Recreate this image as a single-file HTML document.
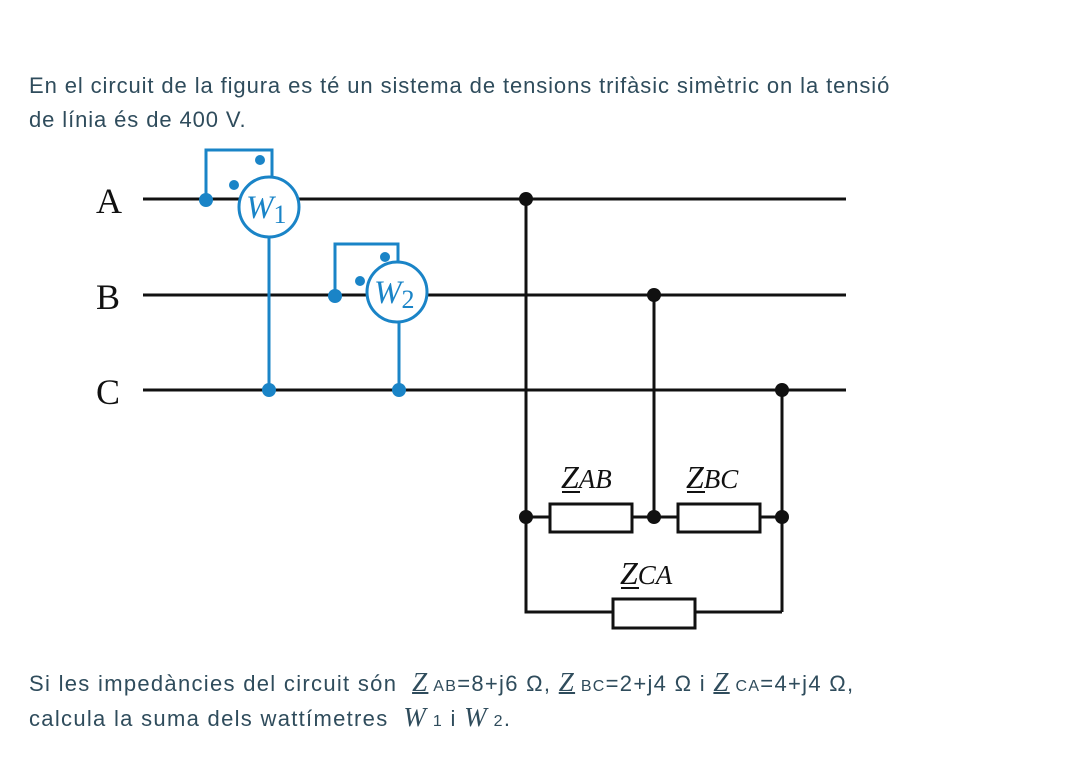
<!DOCTYPE html>
<html><head><meta charset="utf-8"><style>
body{margin:0;background:#fff;width:1086px;height:775px;overflow:hidden;position:relative;font-family:"Liberation Sans",sans-serif;color:#2f4c5c}
.t{position:absolute;left:29px;font-size:22px;letter-spacing:0.9px;white-space:nowrap}
.b{letter-spacing:1.3px}
.z{font-family:"Liberation Serif",serif;font-style:italic;font-size:27px;text-decoration:underline;text-decoration-thickness:1.5px}
.s{font-size:16px}
.w{font-family:'Liberation Serif',serif;font-style:italic;font-size:27px}
</style></head><body>
<div class="t" style="top:73px">En el circuit de la figura es té un sistema de tensions trifàsic simètric on la tensió</div>
<div class="t" style="top:107px">de línia és de 400 V.</div>
<div class="t b" style="top:667px">Si les impedàncies del circuit són &nbsp;<span class="z">Z</span><span class="s"> AB</span>=8+j6 Ω, <span class="z">Z</span><span class="s"> BC</span>=2+j4 Ω i <span class="z">Z</span><span class="s"> CA</span>=4+j4 Ω,</div>
<div class="t b" style="top:702px">calcula la suma dels wattímetres &nbsp;<span class="w">W</span><span class="s"> 1</span> i <span class="w">W</span><span class="s"> 2</span>.</div>
<svg width="1086" height="775" style="position:absolute;left:0;top:0" font-family="Liberation Serif,serif">
<g font-size="36" fill="#111"><text x="96" y="213">A</text><text x="96" y="309">B</text><text x="96" y="404">C</text></g>
<g stroke="#111" stroke-width="3" fill="none">
<line x1="143" y1="199" x2="846" y2="199"/><line x1="143" y1="295" x2="846" y2="295"/><line x1="143" y1="390" x2="846" y2="390"/>
<polyline points="526,199 526,612 613,612"/><line x1="695" y1="612" x2="782" y2="612"/>
<line x1="654" y1="295" x2="654" y2="517"/><line x1="782" y1="390" x2="782" y2="612"/>
<line x1="526" y1="517" x2="550" y2="517"/><line x1="632" y1="517" x2="678" y2="517"/><line x1="760" y1="517" x2="782" y2="517"/>
<rect x="550" y="504" width="82" height="28" fill="#fff"/><rect x="678" y="504" width="82" height="28" fill="#fff"/><rect x="613" y="599" width="82" height="29" fill="#fff"/>
</g>
<g fill="#111"><circle cx="526" cy="199" r="7"/><circle cx="526" cy="517" r="7"/><circle cx="654" cy="295" r="7"/><circle cx="654" cy="517" r="7"/><circle cx="782" cy="390" r="7"/><circle cx="782" cy="517" r="7"/></g>
<g font-size="32" font-style="italic" fill="#111">
<text x="561" y="488">Z<tspan font-size="27">AB</tspan></text><line x1="562" y1="492" x2="580" y2="492" stroke="#111" stroke-width="2"/>
<text x="686" y="488">Z<tspan font-size="27">BC</tspan></text><line x1="687" y1="492" x2="705" y2="492" stroke="#111" stroke-width="2"/>
<text x="620" y="584">Z<tspan font-size="27">CA</tspan></text><line x1="621" y1="588" x2="639" y2="588" stroke="#111" stroke-width="2"/>
</g>
<g stroke="#1a84c7" stroke-width="3" fill="none">
<polyline points="206,200 206,150 272,150 272,177"/><line x1="269" y1="237" x2="269" y2="390"/>
<polyline points="335,296 335,244 398,244 398,262"/><line x1="399" y1="322" x2="399" y2="390"/>
<circle cx="269" cy="207" r="30" fill="#fff"/><circle cx="397" cy="292" r="30" fill="#fff"/>
</g>
<g fill="#1a84c7"><circle cx="206" cy="200" r="7"/><circle cx="260" cy="160" r="5"/><circle cx="234" cy="185" r="5"/>
<circle cx="335" cy="296" r="7"/><circle cx="385" cy="257" r="5"/><circle cx="360" cy="281" r="5"/>
<circle cx="269" cy="390" r="7"/><circle cx="399" cy="390" r="7"/>
<text x="246" y="218" font-size="33" font-style="italic">W<tspan font-style="normal" font-size="26" dy="5">1</tspan></text>
<text x="374" y="303" font-size="33" font-style="italic">W<tspan font-style="normal" font-size="26" dy="5">2</tspan></text></g>
</svg>
</body></html>
